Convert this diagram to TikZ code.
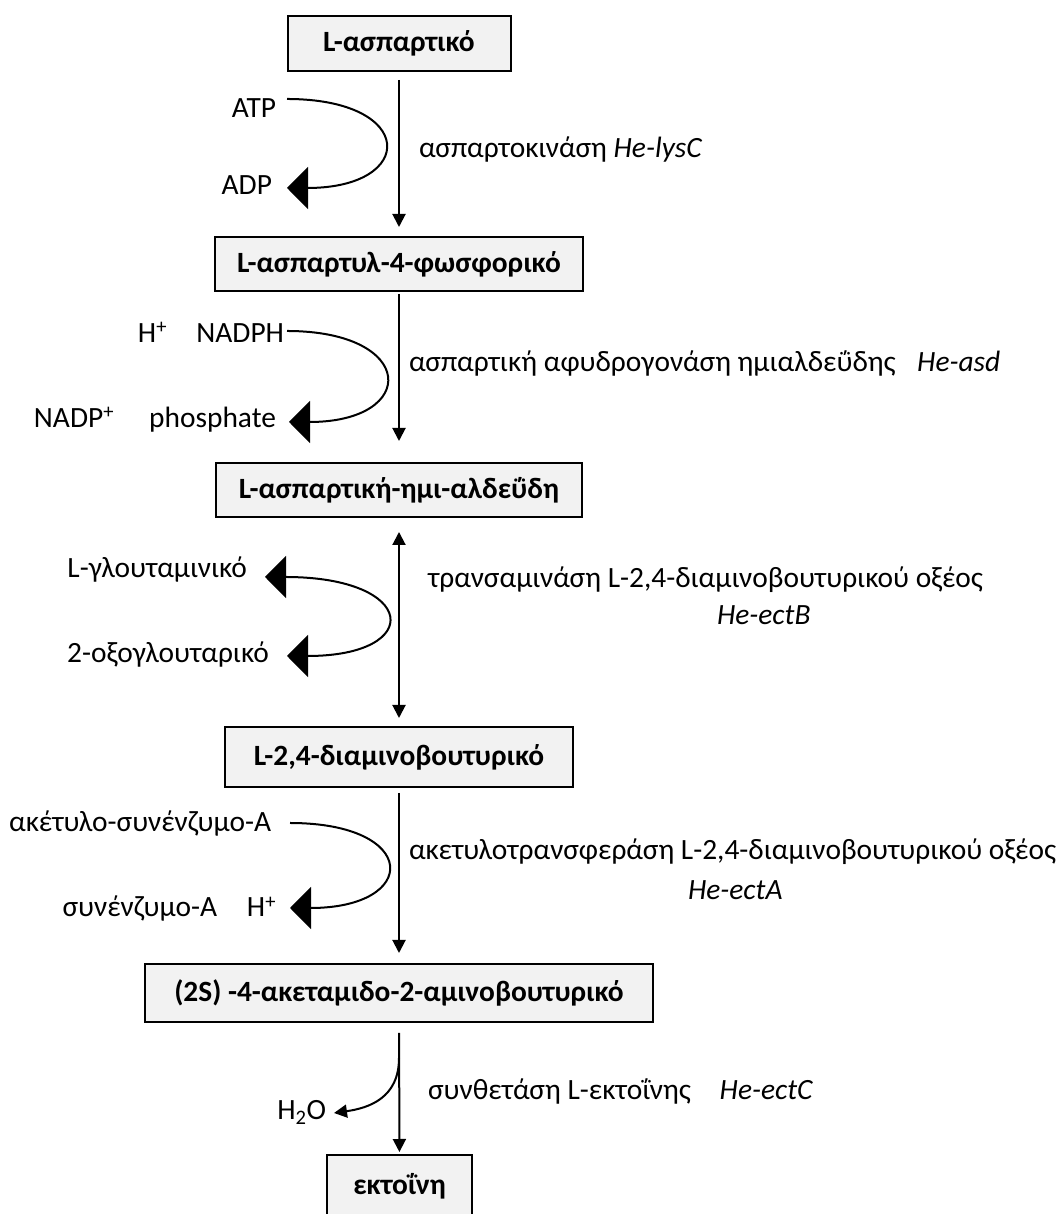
\documentclass[tikz,border=0pt]{standalone}
\usepackage{fontspec}
\setmainfont{Carlito}
\usetikzlibrary{arrows.meta}
\definecolor{boxfill}{HTML}{F2F2F2}
\newcommand{\txt}{\fontsize{29.4bp}{35bp}\selectfont}
\tikzset{big/.tip={Triangle[length=21bp,width=42bp]}}

\begin{document}
\begin{tikzpicture}[>={Triangle[length=13bp,width=13bp]},line width=2bp,
  compound/.style={draw,rectangle,fill=boxfill,inner sep=0pt,font=\txt\bfseries},
  chem/.style={anchor=base east,inner sep=0pt,font=\txt},
  enzyme/.style={anchor=base west,inner sep=0pt,font=\txt},
  cofactor/.style={-big},
  ]
\useasboundingbox (0,0) rectangle (1060bp,1214bp);
%%
\node (asp) at (399bp,1170.5bp) [compound,minimum width=223bp,minimum height=55bp] {L-ασπαρτικό};
  \node (aspp) at (399bp,950bp) [compound,minimum width=368bp,minimum height=54bp] {L-ασπαρτυλ-4-φωσφορικό};
  \node (asa) at (399bp,724bp) [compound,minimum width=366bp,minimum height=54bp] {L-ασπαρτική-ημι-αλδεΰδη};
  \node (dab) at (399bp,457bp) [compound,minimum width=348bp,minimum height=60bp] {L-2,4-διαμινοβουτυρικό};
  \node (adaba) at (399bp,221bp) [compound,minimum width=508bp,minimum height=58bp] {(2S) -4-ακεταμιδο-2-αμινοβουτυρικό};
  \node (ect) at (399.5bp,28bp) [compound,minimum width=145bp,minimum height=62bp] {εκτοΐνη};
%
  \node (atp) at (277bp,1096bp) [chem] {ATP};
  \node (adp) at (273bp,1019bp) [chem] {ADP};
  \node (hplusa) at (168bp,871bp) [chem] {H\textsuperscript{+}};
  \node (nadph) at (285bp,871bp) [chem] {NADPH};
  \node (nadp) at (115bp,786bp) [chem] {NADP\textsuperscript{+}};
  \node (phos) at (277bp,786bp) [chem] {phosphate};
  \node (glu) at (248bp,636bp) [chem] {L-γλουταμινικό};
  \node (oxo) at (270bp,551bp) [chem] {2-οξογλουταρικό};
  \node (accoa) at (272bp,382bp) [chem] {ακέτυλο-συνένζυμο-Α};
  \node (coa) at (218bp,297bp) [chem] {συνένζυμο-Α};
  \node (hplusb) at (277bp,297bp) [chem] {H\textsuperscript{+}};
  \node (water) at (327bp,94bp) [chem] {H\textsubscript{2}O};
%
  \node (lysc) at (418bp,1056bp) [enzyme] {ασπαρτοκινάση \textit{He-lysC}};
  \node (asd) at (408bp,842bp) [enzyme] {ασπαρτική αφυδρογονάση ημιαλδεΰδης\hspace{0.5em} \textit{He-asd}};
  \node (ectb) at (427bp,626bp) [enzyme] {τρανσαμινάση L-2,4-διαμινοβουτυρικού οξέος};
  \node (ectbgene) at (716bp,589bp) [enzyme] {\textit{He-ectB}};
  \node (ecta) at (408bp,354bp) [enzyme] {ακετυλοτρανσφεράση L-2,4-διαμινοβουτυρικού οξέος};
  \node (ectagene) at (687bp,314bp) [enzyme] {\textit{He-ectA}};
  \node (ectc) at (427bp,114bp) [enzyme] {συνθετάση L-εκτοΐνης\hspace{0.75em} \textit{He-ectC}};
  \coordinate (split) at (399bp,156bp);
%
  \draw [->,shorten <=8bp,shorten >=9bp] (asp) -- (aspp);
  \draw [->,shorten <=2bp,shorten >=21bp] (aspp) -- (asa);
  \draw [<->,shorten <=14bp,shorten >=8bp] (asa) -- (dab);
  \draw [->,shorten <=5bp,shorten >=10bp] (dab) -- (adaba);
  \draw [->,shorten <=10bp,shorten >=2bp] (adaba) -- (ect);
%
  \draw [cofactor] ([shift={(10bp,19bp)}]atp.base east) .. controls +(130bp,0) and +(130bp,0) .. ([shift={(14bp,7bp)}]adp.base east);
  \draw [cofactor] ([shift={(2bp,12bp)}]nadph.base east) .. controls +(130bp,0) and +(130bp,0) .. ([shift={(12bp,6bp)}]phos.base east);
  \draw [big-big] ([shift={(17bp,1bp)}]glu.base east) .. controls +(153bp,0) and +(138bp,0) .. ([shift={(17bp,7bp)}]oxo.base east);
  \draw [cofactor] ([shift={(18bp,9bp)}]accoa.base east) .. controls +(130bp,0) and +(130bp,0) .. ([shift={(13bp,9bp)}]hplusb.base east);
  \draw [->] (split) .. controls +(0,-40bp) and +(35bp,5bp) .. ([shift={(7bp,7bp)}]water.base east);
%
\end{tikzpicture}
\end{document}
